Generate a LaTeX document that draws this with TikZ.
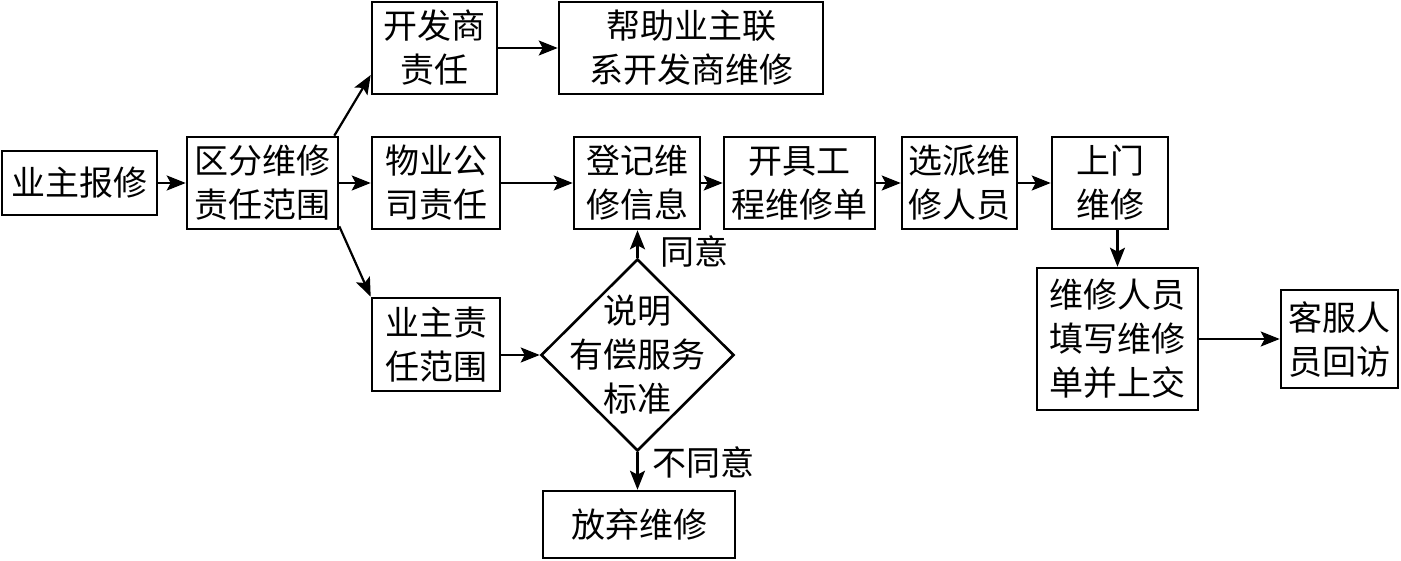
\documentclass[tikz,border=0pt]{standalone}
\usepackage{fontspec}
\newfontfamily\cjk{Noto Sans CJK SC}
\usetikzlibrary{arrows.meta,shapes.geometric,calc}
\tikzset{
  txt/.style={font=\cjk\fontsize{34}{44}\selectfont, align=center, inner sep=0pt},
  box/.style={txt, draw, line width=2.6pt, minimum width=#1},
  arr/.style={line width=2.2pt, -{Stealth[length=19pt,width=15pt,inset=4pt]}},
}
\begin{document}
\begin{tikzpicture}[x=1pt,y=-1pt]
\useasboundingbox (0,0) rectangle (1401,560);
\fill[white] (0,0) rectangle (1401,560);
\node[box=155, minimum height=64] (bx) at (79.5,183) {业主报修};
\node[box=151, minimum height=92] (qf) at (262.5,183) {区分维修\\责任范围};
\node[box=125, minimum height=92] (kfs) at (434.5,48) {开发商\\责任};
\node[box=264, minimum height=92] (bz) at (691,48) {帮助业主联\\系开发商维修};
\node[box=128, minimum height=92] (wy) at (436,183) {物业公\\司责任};
\node[box=126, minimum height=92] (dj) at (637,183) {登记维\\修信息};
\node[box=151, minimum height=92] (kj) at (799.5,183) {开具工\\程维修单};
\node[box=115, minimum height=92] (xp) at (959.5,183) {选派维\\修人员};
\node[box=116, minimum height=92] (sm) at (1110,183) {上门\\维修};
\node[box=161, minimum height=142] (wx) at (1117.5,339) {维修人员\\填写维修\\单并上交};
\node[box=117, minimum height=98] (kf) at (1339.5,339) {客服人\\员回访};
\node[box=128, minimum height=93] (yz) at (436,344.5) {业主责\\任范围};
\node[draw, diamond, line width=2.6pt, minimum width=193pt, minimum height=192pt, inner sep=0pt] (dm) at (637.5,355) {};
\node[txt] (dmt) at (dm.center) {说明\\有偿服务\\标准};
\node[box=192, minimum height=67] (fq) at (639,524.5) {放弃维修};
\node[txt] (ty) at (694,251) {同意};
\node[txt] (bty) at (703,462) {不同意};

\draw[arr] (bx.east) -- (qf.west);
\draw[arr] (qf.east) -- (wy.west);
\draw[arr] (wy.east) -- (dj.west);
\draw[arr] (dj.east) -- (kj.west);
\draw[arr] (kj.east) -- (xp.west);
\draw[arr] (xp.east) -- (sm.west);
\draw[arr] (kfs.east) -- (bz.west);
\draw[arr] ([xshift=-5pt]qf.north east) -- ([yshift=-27pt]kfs.west);
\draw[arr] ([yshift=4pt]qf.south east) -- (yz.north west);
\draw[arr] (yz.east |- dm.west) -- (dm.west);
\draw[arr] (dm.north) -- (dm.north |- dj.south);
\draw[arr] (dm.south) -- (dm.south |- fq.north);
\draw[arr] (wx.north |- sm.south) -- (wx.north);
\draw[arr] (wx.east) -- (kf.west);
\end{tikzpicture}
\end{document}
